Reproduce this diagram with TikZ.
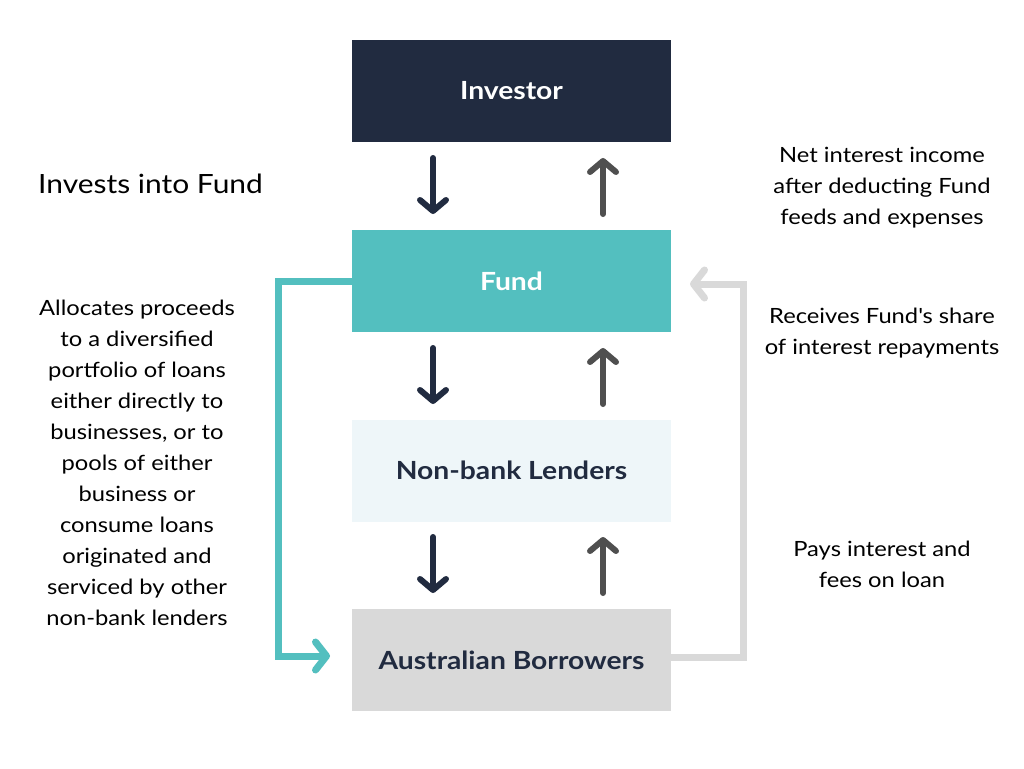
\documentclass[tikz,border=0pt]{standalone}
\usepackage{fontspec}
\setmainfont{Lato}[FakeStretch=1.13]
\usetikzlibrary{arrows.meta}
\definecolor{navy}{HTML}{212B40}
\definecolor{teal1}{HTML}{53BFBF}
\definecolor{pale}{HTML}{EEF6F9}
\definecolor{lgray}{HTML}{D9D9D9}
\definecolor{dgray}{HTML}{4F4F4F}
\tikzset{
  box/.style={minimum width=319pt, minimum height=102pt, inner sep=0pt, font=\fontsize{25}{29}\selectfont\bfseries},
  dnarrow/.style={draw=navy, line width=6pt, line cap=round, -{Straight Barb[length=11pt,width=26pt,round]}},
  uparrow/.style={draw=dgray, line width=6pt, line cap=round, -{Straight Barb[length=11pt,width=26pt,round]}},
  txt/.style={align=center, font=\fontsize{21}{31}\selectfont, inner sep=0pt},
}
\begin{document}
\begin{tikzpicture}[x=1pt,y=-1pt]
\useasboundingbox[fill=white] (0,0) rectangle (1024,768);
\node[box, fill=navy, text=white] (inv) at (511.5,91) {Investor};
\node[box, fill=teal1, text=white] (fund) at (511.5,281) {Fund};
\node[box, fill=pale, text=navy] (nbl) at (511.5,470.5) {Non-bank Lenders};
\node[box, fill=lgray, text=navy] (bor) at (511.5,660) {Australian Borrowers};
% vertical arrows
\coordinate (d1a) at (433,158); \coordinate (d1b) at (433,214);
\coordinate (u1a) at (603,214); \coordinate (u1b) at (603,158);
\coordinate (d2a) at (433,348); \coordinate (d2b) at (433,404);
\coordinate (u2a) at (603,404); \coordinate (u2b) at (603,348);
\coordinate (d3a) at (433,537); \coordinate (d3b) at (433,593);
\coordinate (u3a) at (603,593); \coordinate (u3b) at (603,537);
\draw[dnarrow] (d1a) -- (d1b);
\draw[uparrow] (u1a) -- (u1b);
\draw[dnarrow] (d2a) -- (d2b);
\draw[uparrow] (u2a) -- (u2b);
\draw[dnarrow] (d3a) -- (d3b);
\draw[uparrow] (u3a) -- (u3b);
% side connectors
\coordinate (tl) at (278,281);
\coordinate (tb) at (278,656);
\coordinate (tend) at (330,656);
\draw[teal1, line width=7pt, -{Straight Barb[length=11pt,width=28pt,round]}] (fund.west) -- (tl) -- (tb) -- (tend);
\coordinate (gr) at (743,657);
\coordinate (gt) at (743,284);
\coordinate (gend) at (690,284);
\draw[lgray, line width=7pt, -{Straight Barb[length=11pt,width=28pt,round]}] (bor.east |- gr) -- (gr) -- (gt) -- (gend);
% texts
\node[anchor=west, inner sep=0pt, font=\fontsize{26.5}{30}\selectfont] (t1) at (38,184) {Invests into Fund};
\node[txt] (t2) at (882,187.5) {Net interest income\\after deducting Fund\\feeds and expenses};
\node[txt] (t3) at (882,333) {Receives Fund\textquotesingle s share\\of interest repayments};
\node[txt] (t4) at (882,564) {Pays interest and\\fees on loan};
\node[txt] (t5) at (137,462.5) {Allocates proceeds\\to a diversified\\portfolio of loans\\either directly to\\businesses, or to\\pools of either\\business or\\consume loans\\originated and\\serviced by other\\non-bank lenders};
\end{tikzpicture}
\end{document}
